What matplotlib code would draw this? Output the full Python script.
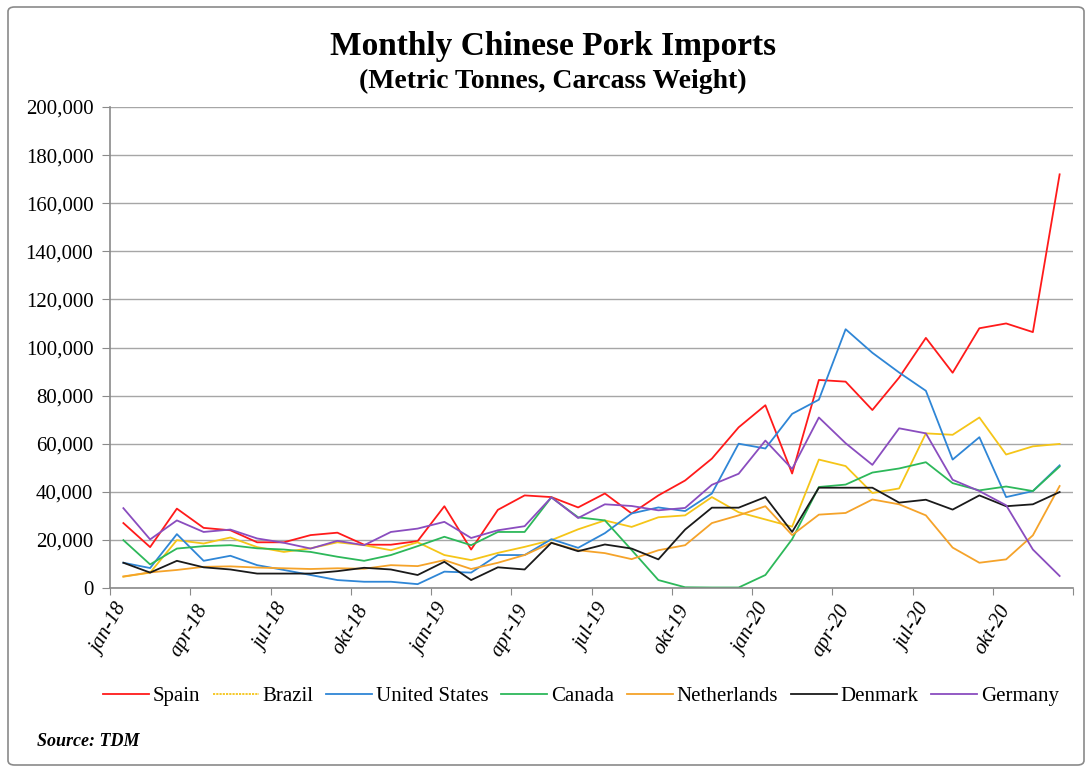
import matplotlib
matplotlib.use("Agg")
import matplotlib.pyplot as plt
from matplotlib.patches import FancyBboxPatch
from matplotlib.lines import Line2D
from matplotlib.ticker import FuncFormatter, FixedLocator
import numpy as np

months = ["jan-18","feb-18","mar-18","apr-18","mai-18","jun-18","jul-18","aug-18","sep-18","okt-18","nov-18","des-18",
          "jan-19","feb-19","mar-19","apr-19","mai-19","jun-19","jul-19","aug-19","sep-19","okt-19","nov-19","des-19",
          "jan-20","feb-20","mar-20","apr-20","mai-20","jun-20","jul-20","aug-20","sep-20","okt-20","nov-20","des-20"]

spain = [27000,17000,33000,25000,24000,19000,19000,22000,23000,18000,18000,19500,
         34000,16000,32500,38500,37800,33500,39300,31000,38500,44700,53800,66800,
         76000,47600,86500,85800,74000,87500,104000,89500,108000,110000,106400,172000]
brazil = [4700,6400,19900,18500,21000,17000,15000,16500,19000,17800,15700,19000,
          13700,11600,14600,17100,19900,24400,28100,25400,29400,30200,37800,31500,
          28500,25500,53400,50700,39500,41400,64300,63700,70900,55500,58900,59900]
united_states = [10500,8300,22400,11300,13400,9500,7500,5400,3300,2600,2600,1600,
                 6800,6400,13700,13700,20300,16700,22800,31000,33500,32000,39300,60000,
                 58000,72400,78300,107600,97800,89600,82000,53400,62700,37800,40300,51000]
canada = [19900,9800,16400,17400,17800,16500,16000,15000,13000,11300,13700,17400,
          21300,17800,23300,23300,37700,29400,28100,15800,3300,300,200,200,
          5400,20300,42000,43000,48000,49700,52300,43600,40600,42200,40300,50500]
netherlands = [4800,6500,7500,8800,9000,8500,8200,7900,8200,8000,9500,9100,
               11600,7900,10500,13700,18800,15700,14500,12000,15700,17800,27000,30200,
               34000,22000,30500,31200,36800,34800,30200,16800,10500,11900,21900,42400]
denmark = [10500,6400,11300,8600,7700,6000,6000,6000,7000,8400,7700,5400,
           10900,3300,8600,7700,18800,15300,18100,16400,11900,24300,33400,33400,
           37800,23300,41700,41700,41700,35500,36700,32600,38500,34000,34800,39900]
germany = [33200,20200,28100,23300,24300,20600,18800,16400,19600,17800,23300,24700,
           27500,20800,24000,25700,37700,29100,34800,34100,32300,33300,42900,47500,
           61300,49500,70900,60200,51200,66400,64300,45000,40300,34400,16000,5000]

series_names = ["Spain", "Brazil", "United States", "Canada", "Netherlands", "Denmark", "Germany"]
series_values = [spain, brazil, united_states, canada, netherlands, denmark, germany]
series_colors = ["#FF1A1A", "#F5C518", "#2F86D6", "#2DB85A", "#F5A32A", "#1A1A1A", "#8A4DBF"]

tick_every = 3
y_ticks = list(range(0, 200001, 20000))

plt.rcParams['font.family'] = ['Liberation Serif', 'DejaVu Serif']

W, H = 1091, 770
fig = plt.figure(figsize=(W/100, H/100), dpi=100)
fig.patch.set_facecolor("white")

# outer frame
frame = FancyBboxPatch((8/W, 5/H), (1084-8)/W, (763-5)/H,
                       boxstyle="round,pad=0,rounding_size=0.006",
                       transform=fig.transFigure, fill=False,
                       edgecolor="#8a8a8a", linewidth=1.2)
fig.patches.append(frame)

ax = fig.add_axes([110/W, 1-588/H, (1073-110)/W, (588-107)/H])

x = np.arange(len(months))
handles = []
for name, vals, col in zip(series_names, series_values, series_colors):
    ax.plot(x, vals, color=col, lw=1.3, ls="-")
    ls = (0, (1.2, 0.6)) if name == "Brazil" else "-"
    handles.append(Line2D([], [], color=col, lw=1.3, ls=ls, label=name))

ax.set_xlim(-0.5, len(months) - 0.5)
ax.set_ylim(0, 200000)
ax.set_yticks(y_ticks)
ax.yaxis.set_major_formatter(FuncFormatter(lambda v, p: f"{int(v):,}"))
ax.grid(axis="y", color="#a6a6a6", lw=1.0)
ax.set_axisbelow(True)

# ticks at category boundaries every 3 months, labels centred on categories
ax.xaxis.set_major_locator(FixedLocator(np.arange(-0.5, len(months), tick_every)))
ax.set_xticklabels([])
label_pos = np.arange(0, len(months), tick_every)
ax.xaxis.set_minor_locator(FixedLocator(label_pos))
ax.set_xticklabels([months[i] for i in label_pos], minor=True,
                   rotation=60, ha="right", va="center", rotation_mode="anchor",
                   fontstyle="italic", fontsize=15)
ax.tick_params(axis="x", which="minor", length=0, pad=13)
ax.tick_params(axis="x", which="major", length=5, color="#8a8a8a")
ax.tick_params(axis="y", length=6, color="#8a8a8a", labelsize=15, pad=6)

for s in ["top", "right"]:
    ax.spines[s].set_visible(False)
for s in ["left", "bottom"]:
    ax.spines[s].set_color("#8a8a8a")
    ax.spines[s].set_linewidth(1.2)

fig.text(553/W, 1-46/H, "Monthly Chinese Pork Imports", ha="center", va="center",
         fontsize=24, fontweight="bold")
fig.text(553/W, 1-81/H, "(Metric Tonnes, Carcass Weight)", ha="center", va="center",
         fontsize=20, fontweight="bold")

fig.legend(handles=handles, loc="center", bbox_to_anchor=(581/W, 1-696/H), ncol=7,
           frameon=False, fontsize=15, handlelength=2.2, handletextpad=0.2,
           columnspacing=0.6)

fig.text(37/W, 1-742/H, "Source: TDM", ha="left", va="center", fontsize=13,
         fontweight="bold", fontstyle="italic")

fig.savefig("out.png", dpi=100)
